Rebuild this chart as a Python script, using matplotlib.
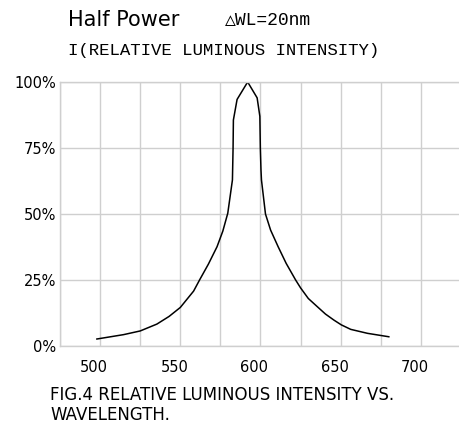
import matplotlib.pyplot as plt
from matplotlib.transforms import ScaledTranslation

# relative luminous intensity vs wavelength
wavelength = [498, 514.6, 525, 535.4, 543, 550, 558.3, 562, 567.5, 572.9, 576.5,
              579.6, 582.5, 582.9, 583.1, 585.4, 592, 597.9, 599.6, 599.9, 600.3,
              600.6, 603.1, 606.3, 611, 616, 621.9, 625, 629.8, 635.4, 640.5,
              645.8, 650.4, 656.25, 666.7, 680]
intensity = [2.65, 4.3, 5.7, 8.3, 11.2, 14.6, 20.8, 25, 31, 37.6, 43.5,
             50.3, 62.9, 75, 85.6, 93.4, 100, 94, 87, 75, 66.7,
             62.9, 50, 43.9, 37.6, 31.3, 25, 22, 18, 14.9, 12.1,
             9.8, 8, 6.3, 4.8, 3.5]

x_ticks = [500, 550, 600, 650, 700]
y_ticks = [0, 25, 50, 75, 100]
y_labels = ["0%", "25%", "50%", "75%", "100%"]

W, H = 460, 424
fig = plt.figure(figsize=(W / 100, H / 100), dpi=100)
ax = fig.add_axes([60 / W, (H - 346) / H, 401 / W, 264 / H])

ax.plot(wavelength, intensity, color="black", lw=1.1)

ax.set_xlim(475, 725)
ax.set_ylim(0, 100)
ax.set_xticks(range(475, 726, 25), minor=True)
ax.set_xticks(x_ticks)
ax.set_xticklabels([str(v) for v in x_ticks])
ax.set_yticks(y_ticks)
ax.set_yticklabels(y_labels)
ax.grid(True, which="both", axis="x", color="#cfcfcf", lw=1.0)
ax.grid(True, axis="y", color="#cfcfcf", lw=1.0)
ax.set_axisbelow(True)
ax.tick_params(which="both", length=0, labelsize=10.5, colors="black")
ax.tick_params(axis="x", pad=10)
ax.tick_params(axis="y", pad=3)
for lab in ax.get_xticklabels():
    lab.set_transform(lab.get_transform() + ScaledTranslation(-6 / 100, 0, fig.dpi_scale_trans))
for s in ax.spines.values():
    s.set_color("#cfcfcf")
    s.set_linewidth(1.0)

fig.text(68 / W, 1 - 20 / H, "Half Power", fontsize=15, va="center", ha="left",
         family="DejaVu Sans")
fig.text(225 / W, 1 - 20 / H, "△WL=20nm", fontsize=13, va="center", ha="left",
         family=["Liberation Mono", "DejaVu Sans Mono"])
fig.text(68 / W, 1 - 50 / H, "I(RELATIVE LUMINOUS INTENSITY)", fontsize=12.5,
         va="center", ha="left", family=["Liberation Mono", "DejaVu Sans Mono"])
fig.text(50 / W, 1 - 395 / H, "FIG.4 RELATIVE LUMINOUS INTENSITY VS.", fontsize=12,
         va="center", ha="left")
fig.text(50 / W, 1 - 415 / H, "WAVELENGTH.", fontsize=12, va="center", ha="left")

fig.savefig("out.png", dpi=100)
